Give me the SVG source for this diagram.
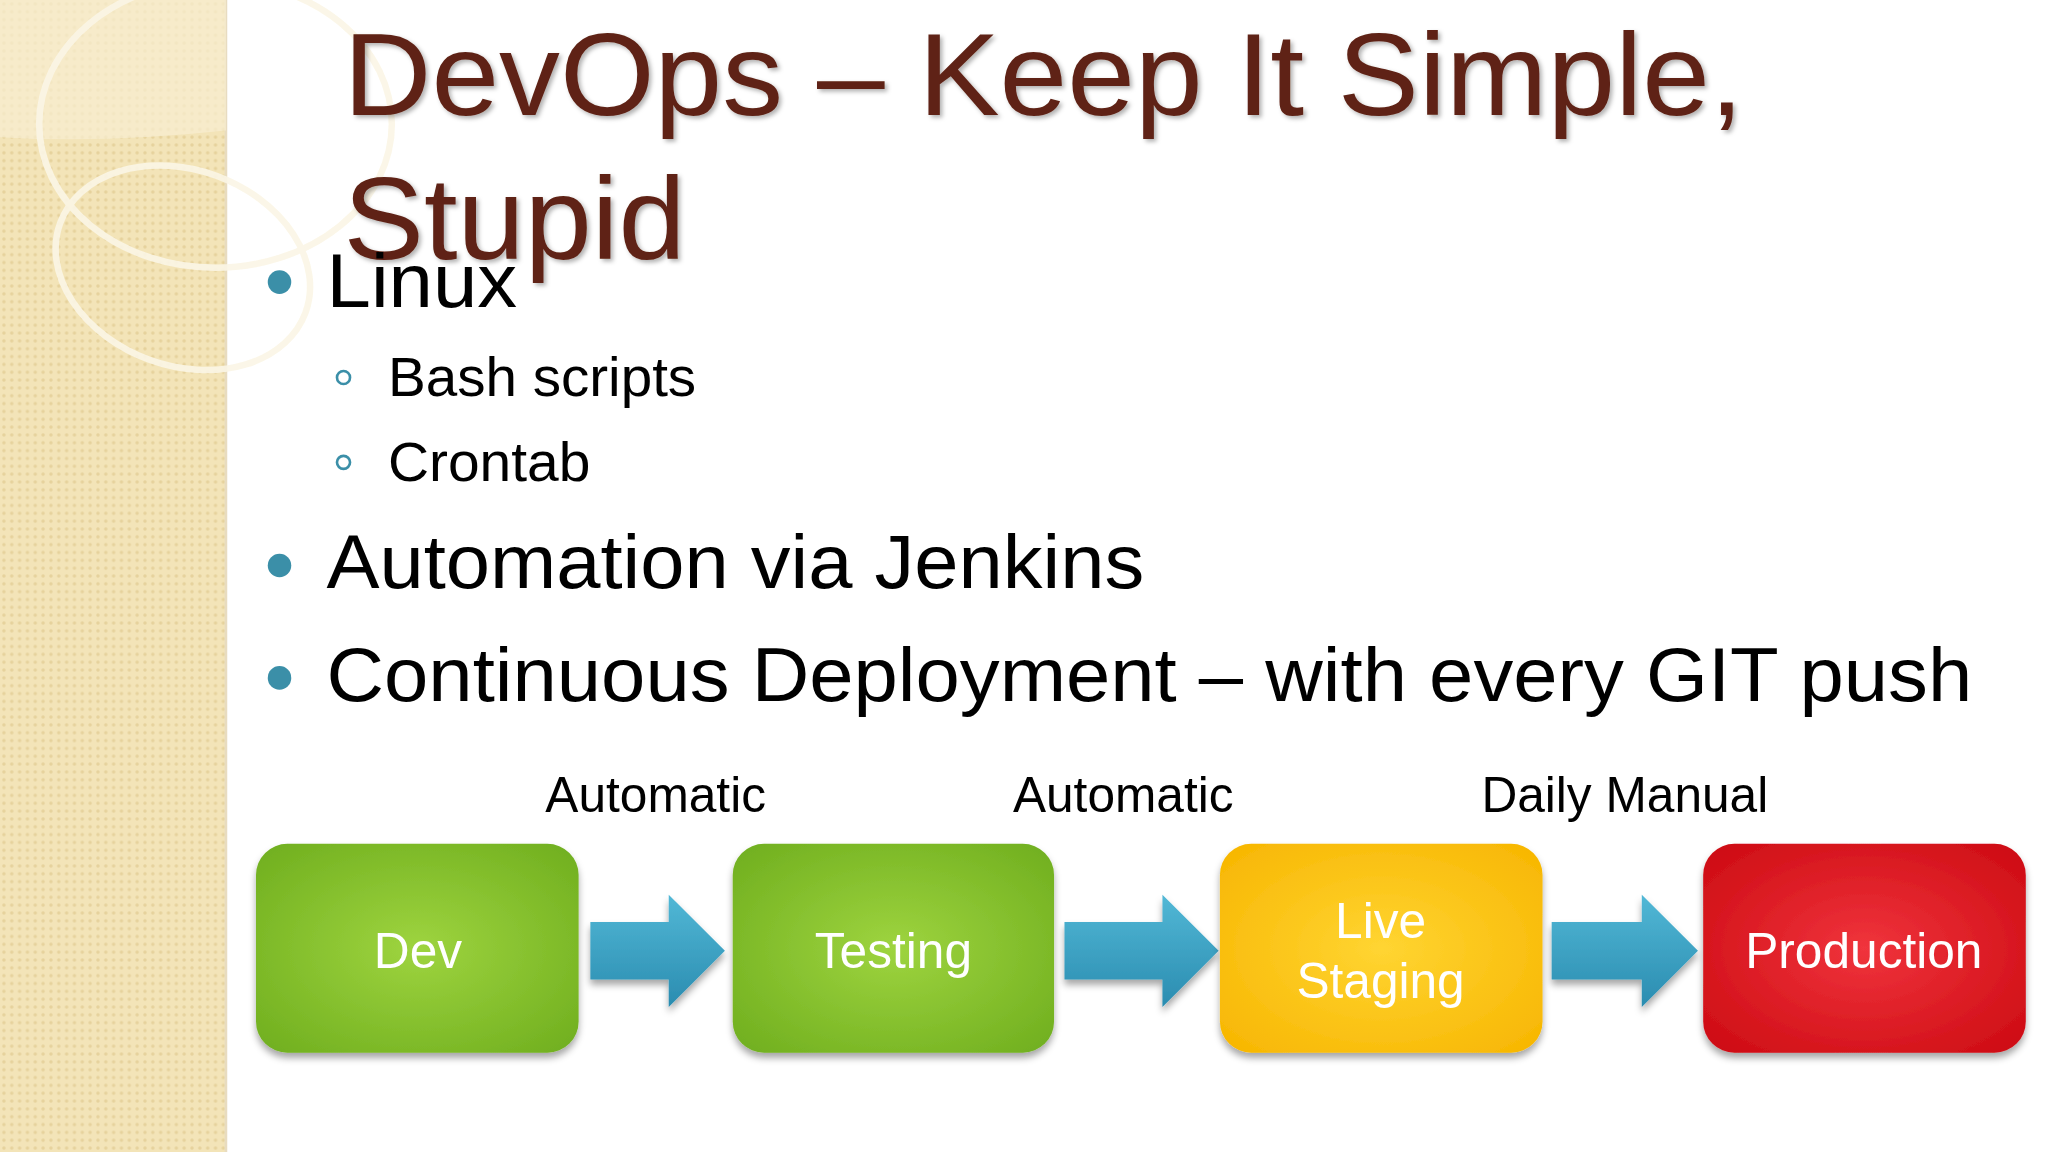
<svg xmlns="http://www.w3.org/2000/svg" width="2048" height="1152" viewBox="0 0 2048 1152">
<defs>
<pattern id="pat" width="6" height="6" patternUnits="userSpaceOnUse"><rect width="6" height="6" fill="#f3e4b8"/><circle cx="3" cy="3" r="1.3" fill="#e6d29c"/></pattern>
<radialGradient id="g" cx="0.5" cy="0.5" r="0.7"><stop offset="0" stop-color="#9ed43f"/><stop offset="1" stop-color="#6fae1e"/></radialGradient>
<radialGradient id="y" cx="0.5" cy="0.5" r="0.7"><stop offset="0" stop-color="#ffd532"/><stop offset="1" stop-color="#f7b500"/></radialGradient>
<radialGradient id="r" cx="0.5" cy="0.5" r="0.7"><stop offset="0" stop-color="#f0343c"/><stop offset="1" stop-color="#cc0a12"/></radialGradient>
<linearGradient id="a" x1="0" y1="0" x2="0" y2="1"><stop offset="0" stop-color="#52b8d6"/><stop offset="1" stop-color="#2a8cb0"/></linearGradient>
<filter id="sh"><feDropShadow dx="0" dy="4" stdDeviation="3" flood-opacity="0.35"/></filter>
<filter id="ts"><feDropShadow dx="2" dy="2" stdDeviation="1.5" flood-opacity="0.3"/></filter>
<style>
.t{font-family:"Liberation Sans",Arial,sans-serif}
.title{font-size:90px;fill:#5e2416}
.b{font-size:58px;fill:#000}
.s{font-size:43px;fill:#000}
.l{font-size:38px;fill:#000}
.w{font-size:38px;fill:#fff;text-anchor:middle}
.dot{fill:#3b8fa8}
</style>
</defs>
<rect width="2048" height="1152" fill="#fff"/>
<g transform="scale(1.30612)">
<rect x="0" y="0" width="173" height="882" fill="url(#pat)"/>
<line x1="173" y1="0" x2="173" y2="882" stroke="#e8dcc0" stroke-width="2"/>
<path d="M0 0H173V100Q80 110 0 105Z" fill="#f8eed2" opacity="0.7"/>
<g fill="none" stroke="#fbf6e6" stroke-width="5" opacity="0.9">
<ellipse cx="165" cy="95" rx="135" ry="110"/>
<ellipse cx="140" cy="205" rx="100" ry="75" transform="rotate(20 140 205)"/>
</g>
<g id="title" class="t title" filter="url(#ts)"><text x="263" y="88" textLength="1072" lengthAdjust="spacingAndGlyphs">DevOps – Keep It Simple,</text><text x="263" y="198" textLength="262" lengthAdjust="spacingAndGlyphs">Stupid</text></g>
<g id="bullets" class="t">
<circle class="dot" cx="214" cy="216" r="9"/><text class="b" x="250" y="235" textLength="146" lengthAdjust="spacingAndGlyphs">Linux</text>
<circle cx="263" cy="289" r="5" fill="none" stroke="#3b8fa8" stroke-width="2"/><text class="s" x="297" y="303" textLength="236" lengthAdjust="spacingAndGlyphs">Bash scripts</text>
<circle cx="263" cy="354" r="5" fill="none" stroke="#3b8fa8" stroke-width="2"/><text class="s" x="297" y="368" textLength="155" lengthAdjust="spacingAndGlyphs">Crontab</text>
<circle class="dot" cx="214" cy="433" r="9"/><text class="b" x="250" y="450" textLength="626" lengthAdjust="spacingAndGlyphs">Automation via Jenkins</text>
<circle class="dot" cx="214" cy="519" r="9"/><text class="b" x="250" y="537" textLength="1260" lengthAdjust="spacingAndGlyphs">Continuous Deployment – with every GIT push</text>
</g>
<g id="labels" class="t l" text-anchor="middle">
<text x="502" y="622">Automatic</text><text x="860" y="622">Automatic</text><text x="1244" y="622">Daily Manual</text>
</g>
<g id="connectors" fill="url(#a)" filter="url(#sh)">
<path d="M452 706H512V685L555 728L512 771V750H452Z"/>
<path d="M815 706H890V685L933 728L890 771V750H815Z"/>
<path d="M1188 706H1257V685L1300 728L1257 771V750H1188Z"/>
</g>
<g id="dev" filter="url(#sh)"><rect x="196" y="646" width="247" height="160" rx="24" fill="url(#g)"/><text class="t w" x="320" y="741">Dev</text></g>
<g id="testing" filter="url(#sh)"><rect x="561" y="646" width="246" height="160" rx="24" fill="url(#g)"/><text class="t w" x="684" y="741">Testing</text></g>
<g id="staging" filter="url(#sh)"><rect x="934" y="646" width="247" height="160" rx="24" fill="url(#y)"/><text class="t w" x="1057" y="718">Live</text><text class="t w" x="1057" y="764">Staging</text></g>
<g id="production" filter="url(#sh)"><rect x="1304" y="646" width="247" height="160" rx="24" fill="url(#r)"/><text class="t w" x="1427" y="741">Production</text></g>
</g>
</svg>
